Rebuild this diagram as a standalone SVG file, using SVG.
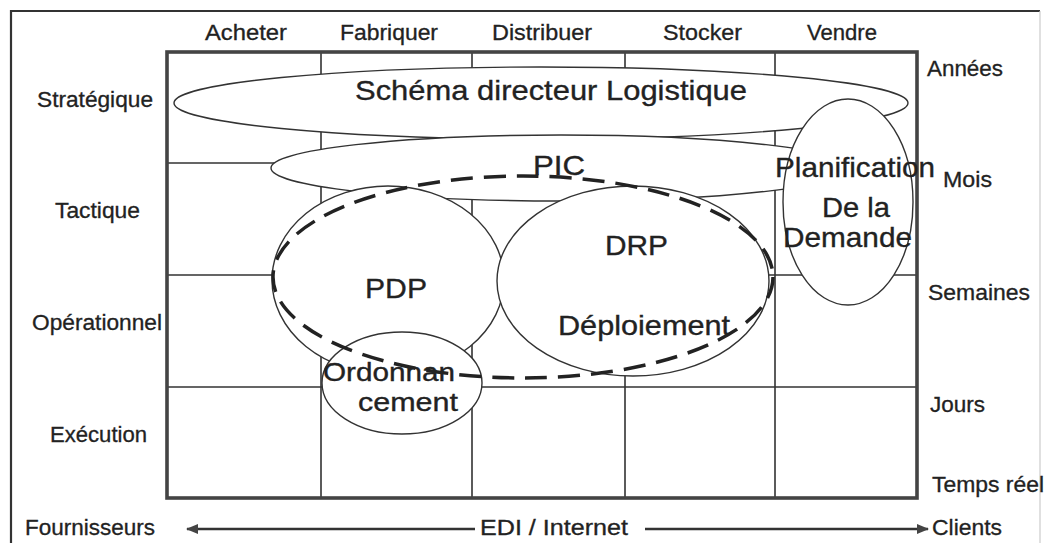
<svg xmlns="http://www.w3.org/2000/svg" width="1045" height="543" viewBox="0 0 1045 543">
<style>
.t{font-family:"Liberation Sans",Arial,sans-serif;fill:#222;stroke:#222;stroke-width:0.3;font-size:21.5px}
.b{font-family:"Liberation Sans",Arial,sans-serif;fill:#222;stroke:#222;stroke-width:0.35;font-size:28.5px}
.s{font-size:26px}
.e{fill:#fff;stroke:#333;stroke-width:1.4}
.g{stroke:#333;stroke-width:1.6;fill:none}
.dash{fill:none;stroke:#222;stroke-width:3.5;stroke-dasharray:22 11}
.arr{stroke:#333;stroke-width:2.4;fill:none}
</style>
<defs>
<marker id="ah" viewBox="0 0 12 10" refX="11" refY="5" markerWidth="12" markerHeight="10" markerUnits="userSpaceOnUse" orient="auto">
<path d="M0,0 L12,5 L0,10 Z" fill="#444"/>
</marker>
</defs>
<rect width="1045" height="543" fill="#fff"/>
<g id="frame">
<path d="M11,543 L11,11 L1040,11" fill="none" stroke="#333" stroke-width="2.2"/>
<path d="M1040,11 L1040,543" fill="none" stroke="#ccc" stroke-width="1.2"/>
</g>
<g id="grid-lines">
<path class="g" d="M321,52 V498 M472,52 V498 M625,52 V498 M775,52 V498 M167,163 H917 M167,275 H917 M167,387 H917"/>
</g>
<g id="schema">
<ellipse class="e" cx="541" cy="103" rx="367" ry="36"/>
<text class="b" x="355" y="100" textLength="392" lengthAdjust="spacingAndGlyphs">Schéma directeur Logistique</text>
</g>
<g id="pic">
<ellipse class="e" cx="561" cy="168" rx="290" ry="33"/>
</g>
<g id="planification">
<ellipse class="e" cx="848" cy="202" rx="65" ry="103"/>
</g>
<g id="pdp">
<ellipse class="e" cx="388" cy="280" rx="116" ry="94"/>
</g>
<g id="drp">
<ellipse class="e" cx="633" cy="281" rx="136" ry="95"/>
</g>
<g id="ordonnancement">
<ellipse class="e" cx="402" cy="383" rx="80" ry="51"/>
</g>
<g id="pic-pdp-drp-dashed">
<ellipse class="dash" cx="523" cy="277" rx="250" ry="101"/>
</g>
<g id="grid-border">
<rect x="167" y="52" width="750" height="446" fill="none" stroke="#444" stroke-width="3.6"/>
</g>
<g id="labels">
<text class="b" x="533" y="175" textLength="52" lengthAdjust="spacingAndGlyphs">PIC</text>
<text class="b" x="775" y="177" textLength="160" lengthAdjust="spacingAndGlyphs">Planification</text>
<text class="b" x="822" y="217" textLength="68" lengthAdjust="spacingAndGlyphs">De la</text>
<text class="b" x="783" y="247" textLength="129" lengthAdjust="spacingAndGlyphs">Demande</text>
<text class="b" x="365" y="298" textLength="62" lengthAdjust="spacingAndGlyphs">PDP</text>
<text class="b" x="605" y="255" textLength="63" lengthAdjust="spacingAndGlyphs">DRP</text>
<text class="b" x="558" y="335" textLength="172" lengthAdjust="spacingAndGlyphs">Déploiement</text>
<text class="b s" x="323" y="381" textLength="132" lengthAdjust="spacingAndGlyphs">Ordonnan</text>
<text class="b s" x="358" y="411" textLength="100" lengthAdjust="spacingAndGlyphs">cement</text>
</g>
<g id="headers">
<text class="t" x="205" y="40" textLength="82" lengthAdjust="spacingAndGlyphs">Acheter</text>
<text class="t" x="340" y="40" textLength="98" lengthAdjust="spacingAndGlyphs">Fabriquer</text>
<text class="t" x="492" y="40" textLength="100" lengthAdjust="spacingAndGlyphs">Distribuer</text>
<text class="t" x="663" y="40" textLength="79" lengthAdjust="spacingAndGlyphs">Stocker</text>
<text class="t" x="807" y="40" textLength="70" lengthAdjust="spacingAndGlyphs">Vendre</text>
</g>
<g id="levels">
<text class="t" x="37" y="107" textLength="116" lengthAdjust="spacingAndGlyphs">Stratégique</text>
<text class="t" x="55" y="218" textLength="85" lengthAdjust="spacingAndGlyphs">Tactique</text>
<text class="t" x="32" y="330" textLength="130" lengthAdjust="spacingAndGlyphs">Opérationnel</text>
<text class="t" x="50" y="442" textLength="97" lengthAdjust="spacingAndGlyphs">Exécution</text>
</g>
<g id="horizons">
<text class="t" x="927" y="76" textLength="76" lengthAdjust="spacingAndGlyphs">Années</text>
<text class="t" x="943" y="187" textLength="49" lengthAdjust="spacingAndGlyphs">Mois</text>
<text class="t" x="928" y="300" textLength="102" lengthAdjust="spacingAndGlyphs">Semaines</text>
<text class="t" x="930" y="412" textLength="55" lengthAdjust="spacingAndGlyphs">Jours</text>
<text class="t" x="932" y="492" textLength="112" lengthAdjust="spacingAndGlyphs">Temps réel</text>
</g>
<g id="flow">
<text class="t" x="25" y="535" textLength="130" lengthAdjust="spacingAndGlyphs">Fournisseurs</text>
<text class="t" x="480" y="535" textLength="148" lengthAdjust="spacingAndGlyphs">EDI / Internet</text>
<text class="t" x="932" y="535" textLength="70" lengthAdjust="spacingAndGlyphs">Clients</text>
</g>
<g id="connectors">
<line class="arr" x1="475" y1="529" x2="187" y2="529" marker-end="url(#ah)"/>
<line class="arr" x1="645" y1="529" x2="928" y2="529" marker-end="url(#ah)"/>
</g>
</svg>
